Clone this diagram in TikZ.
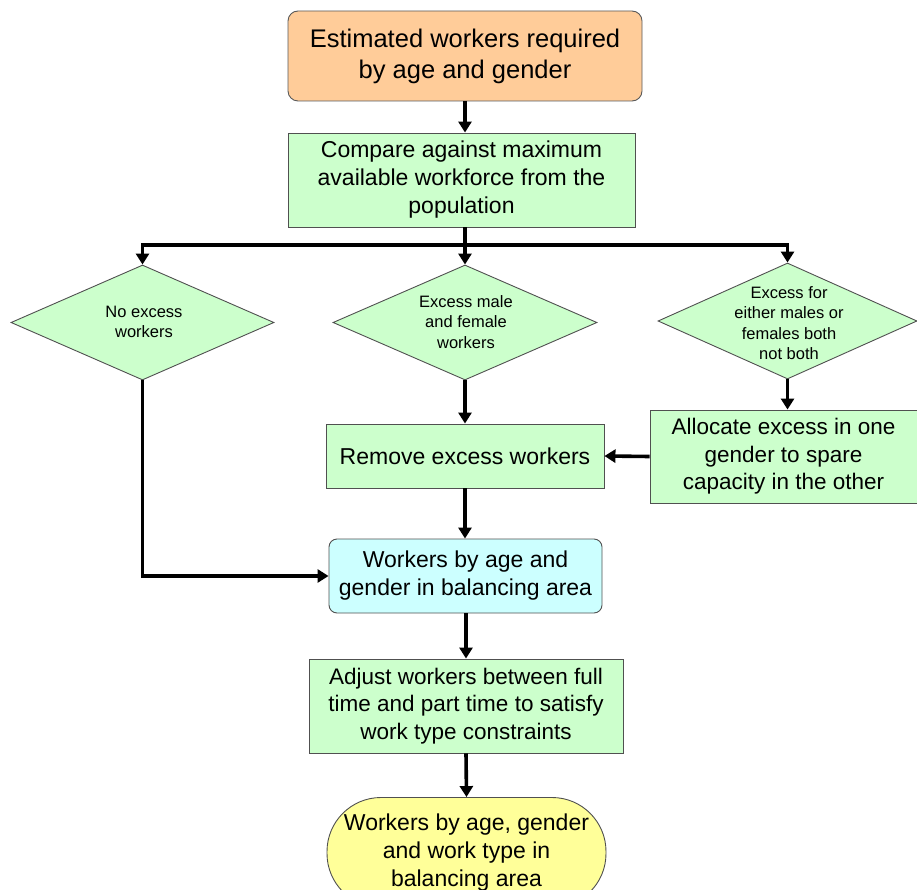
\documentclass[tikz,border=0pt]{standalone}
\usepackage{fontspec}
\setmainfont{Liberation Sans}
\usetikzlibrary{arrows.meta,shapes.geometric}
\definecolor{cOrange}{HTML}{FFCC99}
\definecolor{cGreen}{HTML}{CCFFCC}
\definecolor{cCyan}{HTML}{CCFFFF}
\definecolor{cYellow}{HTML}{FFFF99}
\definecolor{cBorder}{HTML}{505050}
\tikzset{
  box/.style={draw=cBorder, line width=0.9pt, fill=cGreen, align=center, inner sep=0pt,
              font=\fontsize{23}{28}\selectfont},
  dia/.style={diamond, draw=cBorder, line width=0.9pt, fill=cGreen, inner sep=0pt},
  diatext/.style={align=center, inner sep=0pt, font=\fontsize{16.5}{20.5}\selectfont},
  conn/.style={line width=3.6pt, black},
  arr/.style={conn, -{Triangle[width=13pt,length=11pt]}},
}
\begin{document}
\begin{tikzpicture}[x=1pt,y=1pt]
\useasboundingbox (0,0) rectangle (917,-890);
\clip (0,0) rectangle (917,-890);
% nodes
\node[box, fill=cOrange, draw=gray!70!black, rounded corners=10pt, minimum width=354pt, minimum height=90pt,
      font=\fontsize{25.5}{31}\selectfont] (top) at (465,-56) {Estimated workers required\\by age and gender};
\node[box, minimum width=347pt, minimum height=94pt] (cmp) at (461.5,-180) {Compare against maximum\\available workforce from the\\population};
\node[dia, minimum width=263pt, minimum height=115pt] (d1) at (142.5,-322.5) {};
\node[diatext] (d1t) at (144,-322) {No excess\\workers};
\node[dia, minimum width=264pt, minimum height=115pt] (d2) at (465,-322.5) {};
\node[diatext] (d2t) at (466,-322) {Excess male\\and female\\workers};
\node[dia, minimum width=259pt, minimum height=116pt] (d3) at (787.5,-321) {};
\node[diatext] (d3t) at (789,-323) {Excess for\\either males or\\females both\\not both};
\node[box, minimum width=278pt, minimum height=64pt] (rem) at (465,-456) {Remove excess workers};
\node[box, minimum width=267pt, minimum height=93pt, font=\fontsize{22.5}{27.5}\selectfont] (alloc) at (783.5,-456.5) {Allocate excess in one\\gender to spare\\capacity in the other};
\node[box, fill=cCyan, rounded corners=8pt, minimum width=273pt, minimum height=74pt] (wk) at (465.5,-576) {Workers by age and\\gender in balancing area};
\node[box, minimum width=314pt, minimum height=94pt, font=\fontsize{22.5}{27.5}\selectfont] (adj) at (466,-706) {Adjust workers between full\\time and part time to satisfy\\work type constraints};
\node[box, fill=cYellow, rounded corners=54pt, minimum width=279pt, minimum height=110pt] (fin) at (466.5,-852.5) {Workers by age, gender\\and work type in\\balancing area};
% connectors
\draw[arr] (top.south) -- (top.south |- cmp.north);
\coordinate (br) at (465,-245);
\draw[conn] (cmp.south -| br) -- (br);
\draw[arr] (br) -- (d2.north);
\draw[arr] (br) -| (d1.north);
\draw[arr] (br) -| (d3.north);
\draw[arr] (d2.south) -- (rem.north);
\draw[arr] (d3.south) -- (alloc.north -| d3.south);
\draw[arr] (alloc.west) -- (rem.east);
\draw[arr] (rem.south) -- (wk.north -| rem.south);
\draw[arr] (d1.south) |- (wk.west);
\draw[arr] (wk.south -| adj.north) -- (adj.north);
\draw[arr] (adj.south) -- (fin.north);
\end{tikzpicture}
\end{document}
